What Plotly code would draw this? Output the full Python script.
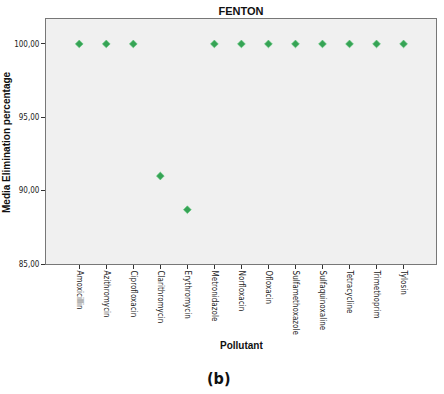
import plotly.graph_objects as go

pollutants = ["Amoxicillin", "Azithromycin", "Ciprofloxacin", "Clarithromycin",
              "Erythromycin", "Metronidazole", "Norfloxacin", "Ofloxacin",
              "Sulfamethoxazole", "Sulfaquinoxaline", "Tetracycline",
              "Trimethoprim", "Tylosin"]
elimination = [100.0, 100.0, 100.0, 91.0, 88.7, 100.0, 100.0, 100.0,
               100.0, 100.0, 100.0, 100.0, 100.0]
y_tick_vals = [85, 90, 95, 100]
y_tick_text = ["85,00", "90,00", "95,00", "100,00"]

W, H = 444, 394
L, R, T, B = 46, 436, 19, 264
pw, ph = R - L, B - T

fig = go.Figure()
fig.add_trace(go.Scatter(
    x=list(range(len(pollutants))), y=elimination, mode="markers",
    marker=dict(symbol="diamond", size=6, color="#36a355",
                line=dict(width=0.6, color="#5cc878")),
    showlegend=False))

tick_font = dict(family="DejaVu Sans Condensed, Liberation Sans Narrow, Arial", size=8, color="#222")

fig.update_layout(
    width=W, height=H,
    margin=dict(l=L, r=W - R, t=T, b=H - B, autoexpand=False),
    paper_bgcolor="white", plot_bgcolor="#f0f0f0",
    font=dict(family="Liberation Sans, Arial", color="#222"),
    title=dict(text="<b>FENTON</b>", x=241 / W, xanchor="center", xref="container",
               y=1 - 11 / H, yanchor="middle", font=dict(size=11, color="#111")),
    xaxis=dict(range=[-1.23, 13.2], tickmode="array", automargin=False,
               tickvals=list(range(len(pollutants))), ticktext=pollutants,
               tickangle=90, ticks="outside", ticklen=4, tickcolor="#333",
               showline=True, linecolor="#777", linewidth=1, mirror=True,
               showgrid=False, zeroline=False, tickfont=tick_font),
    yaxis=dict(range=[85, 101.7], tickmode="array", tickvals=y_tick_vals, automargin=False,
               ticktext=y_tick_text, ticks="outside", ticklen=4, tickcolor="#333",
               showline=True, linecolor="#777", linewidth=1, mirror=True,
               showgrid=False, zeroline=False, tickfont=tick_font),
)

fig.add_annotation(text="<b>Media Elimination percentage</b>", xref="paper", yref="paper",
                   x=(6 - L) / pw, y=(B - 142) / ph, textangle=-90, showarrow=False,
                   xanchor="center", yanchor="middle",
                   font=dict(size=10, color="#111"))
fig.add_annotation(text="<b>Pollutant</b>", xref="paper", yref="paper",
                   x=(241 - L) / pw, y=(B - 345) / ph, showarrow=False,
                   xanchor="center", yanchor="middle", font=dict(size=10, color="#111"))
fig.add_annotation(text="<b>(b)</b>", xref="paper", yref="paper",
                   x=(218 - L) / pw, y=(B - 378) / ph, showarrow=False,
                   xanchor="center", yanchor="middle",
                   font=dict(size=16, color="#111", family="DejaVu Sans Condensed, Liberation Sans Narrow"))

fig.write_html("out.html", config={"displayModeBar": False},
               post_script="document.body.style.margin='0';")
